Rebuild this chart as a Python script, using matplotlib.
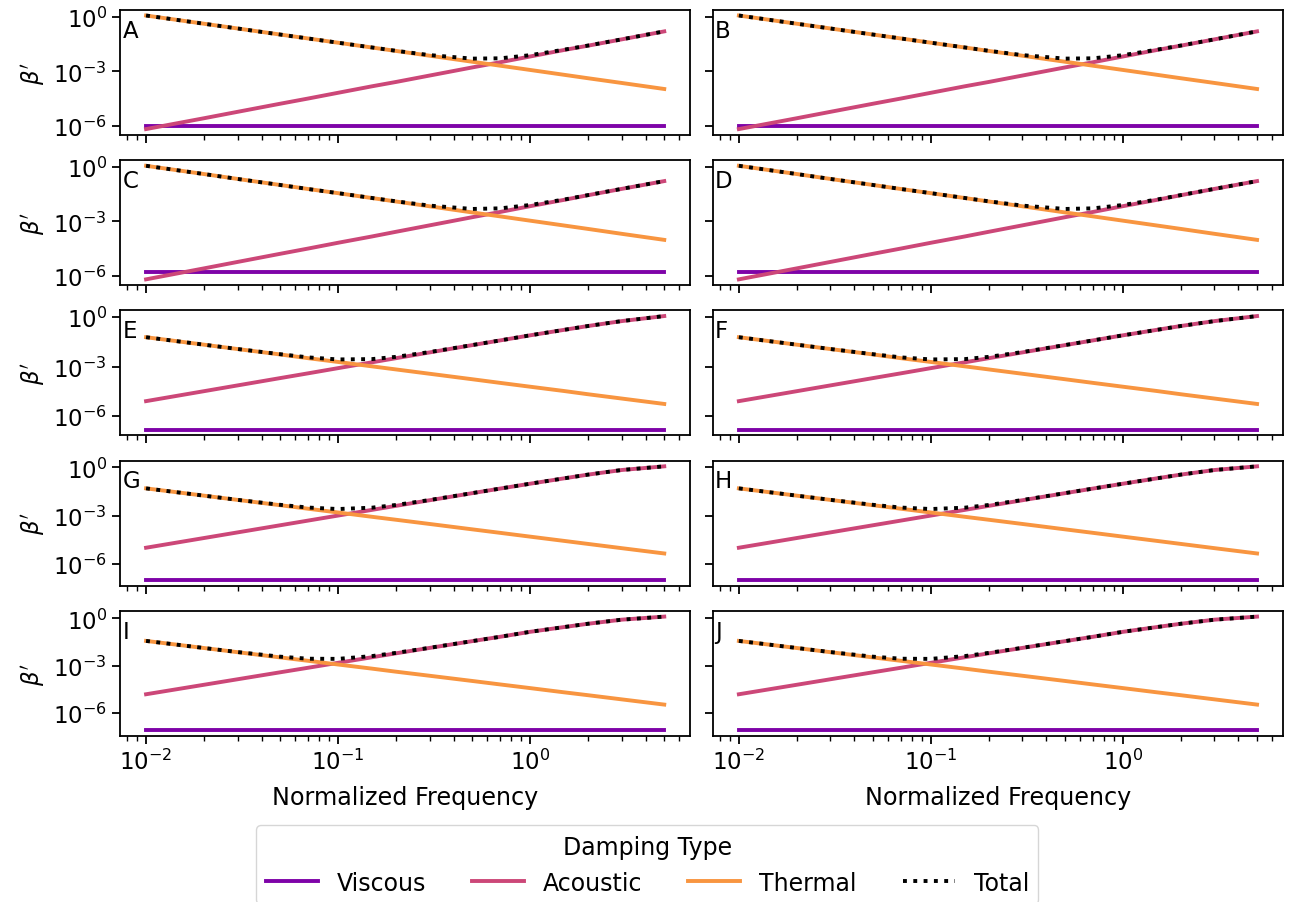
import numpy as np
import matplotlib
matplotlib.use("Agg")
import matplotlib.pyplot as plt
from matplotlib.lines import Line2D

# ============================================================================
# normalized frequency grid
freq = [0.01, 0.02, 0.03, 0.05, 0.07, 0.1, 0.15, 0.2, 0.3, 0.5, 0.7, 1.0, 1.5, 2.0, 3.0, 5.0]

# damping values per row of panels (left and right panels look the same)
thermal_AB = [1.2, 0.424, 0.231, 0.107, 0.0648, 0.038, 0.0207, 0.0134, 0.0073, 0.0034, 0.00205,
              0.0012, 6.5e-4, 4.2e-4, 2.3e-4, 1.07e-4]
acoustic_AB = [6.6e-7, 2.6e-6, 5.9e-6, 1.65e-5, 3.2e-5, 6.6e-5, 1.5e-4, 2.6e-4, 5.9e-4, 1.65e-3,
               3.2e-3, 6.6e-3, 1.5e-2, 2.6e-2, 5.8e-2, 0.16]
viscous_AB = [9.5e-7] * len(freq)

thermal_CD = [1.1, 0.39, 0.21, 0.098, 0.059, 0.035, 0.019, 0.0123, 0.0067, 0.0031, 0.00188,
              0.0011, 6.0e-4, 3.9e-4, 2.1e-4, 9.8e-5]
acoustic_CD = [6.8e-7, 2.7e-6, 6.1e-6, 1.7e-5, 3.3e-5, 6.8e-5, 1.5e-4, 2.7e-4, 6.1e-4, 1.7e-3,
               3.3e-3, 6.8e-3, 1.5e-2, 2.7e-2, 6.0e-2, 0.16]
viscous_CD = [1.8e-6] * len(freq)

thermal_EF = [0.06, 0.0212, 0.0115, 5.4e-3, 3.2e-3, 1.9e-3, 1.03e-3, 6.7e-4, 3.65e-4, 1.7e-4,
              1.02e-4, 6.0e-5, 3.3e-5, 2.1e-5, 1.15e-5, 5.4e-6]
acoustic_EF = [8e-6, 3.2e-5, 7.2e-5, 2e-4, 3.9e-4, 8e-4, 1.8e-3, 3.2e-3, 7.2e-3, 0.0199, 0.0385,
               0.078, 0.167, 0.286, 0.57, 1.15]
viscous_EF = [1.5e-7] * len(freq)

thermal_GH = [0.049, 0.0173, 9.4e-3, 4.4e-3, 2.65e-3, 1.55e-3, 8.4e-4, 5.5e-4, 3.0e-4, 1.39e-4,
              8.4e-5, 4.9e-5, 2.67e-5, 1.73e-5, 9.4e-6, 4.4e-6]
acoustic_GH = [1e-5, 4e-5, 9e-5, 2.5e-4, 4.9e-4, 1e-3, 2.25e-3, 4e-3, 8.96e-3, 0.0247, 0.0478,
               0.0955, 0.205, 0.35, 0.68, 1.15]
viscous_GH = [1.0e-7] * len(freq)

thermal_IJ = [0.037, 0.0131, 7.1e-3, 3.3e-3, 2.0e-3, 1.17e-3, 6.4e-4, 4.1e-4, 2.25e-4, 1.05e-4,
              6.3e-5, 3.7e-5, 2.0e-5, 1.31e-5, 7.1e-6, 3.3e-6]
acoustic_IJ = [1.5e-5, 6e-5, 1.35e-4, 3.75e-4, 7.3e-4, 1.5e-3, 3.37e-3, 6e-3, 0.0133, 0.0358,
               0.068, 0.14, 0.28, 0.455, 0.83, 1.3]
viscous_IJ = [7.8e-8] * len(freq)

panel_labels = ['A', 'B', 'C', 'D', 'E', 'F', 'G', 'H', 'I', 'J']
damping_names = ['Viscous', 'Acoustic', 'Thermal', 'Total']
# ============================================================================

rows = [
    (viscous_AB, acoustic_AB, thermal_AB),
    (viscous_CD, acoustic_CD, thermal_CD),
    (viscous_EF, acoustic_EF, thermal_EF),
    (viscous_GH, acoustic_GH, thermal_GH),
    (viscous_IJ, acoustic_IJ, thermal_IJ),
]

colors = ['#7e03a8', '#cc4778', '#f89540']
fs = 16.5
plt.rcParams['font.family'] = ['DejaVu Sans']
plt.rcParams['font.size'] = fs

fig, axes = plt.subplots(5, 2, figsize=(12.92, 9.03), dpi=100, sharex=True, sharey='row',
                         gridspec_kw=dict(left=0.093, right=0.993, top=0.988, bottom=0.184,
                                          hspace=0.203, wspace=0.04))

x = np.array(freq)
for r, (visc, acou, therm) in enumerate(rows):
    total = np.array(visc) + np.array(acou) + np.array(therm)
    for c in range(2):
        ax = axes[r, c]
        ax.plot(x, visc, color=colors[0], lw=2.8)
        ax.plot(x, acou, color=colors[1], lw=2.8)
        ax.plot(x, therm, color=colors[2], lw=2.8)
        ax.plot(x, total, color='black', lw=2.8, ls=':')
        ax.set_xscale('log')
        ax.set_yscale('log')
        ax.set_yticks([1e-6, 1e-3, 1e0])
        ax.yaxis.set_minor_locator(matplotlib.ticker.NullLocator())
        ax.tick_params(axis='both', which='major', labelsize=fs, length=6, width=1.3)
        ax.tick_params(axis='x', which='minor', length=3.5, width=1.0)
        for sp in ax.spines.values():
            sp.set_linewidth(1.3)
        ax.text(0.004, 0.93, panel_labels[r * 2 + c], transform=ax.transAxes,
                ha='left', va='top', fontsize=fs)
        if c == 0:
            ax.set_ylabel(r"$\beta'$", fontsize=fs)
        if r == 4:
            ax.set_xlabel('Normalized Frequency', fontsize=17.2, labelpad=8)

handles = [Line2D([], [], color=colors[0], lw=2.8),
           Line2D([], [], color=colors[1], lw=2.8),
           Line2D([], [], color=colors[2], lw=2.8),
           Line2D([], [], color='black', lw=2.8, ls=':')]
fig.legend(handles, damping_names, loc='upper center', bbox_to_anchor=(0.501, 0.098),
           ncol=4, title='Damping Type', fontsize=17, title_fontsize=17,
           handlelength=2.2, columnspacing=1.95, frameon=True)

plt.savefig('out.png', dpi=100)
